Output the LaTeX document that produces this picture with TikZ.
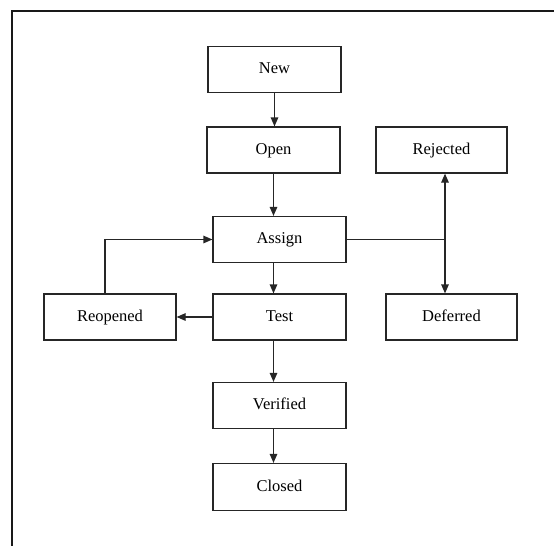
\documentclass[tikz,border=0pt]{standalone}
\usepackage{fontspec}
\setmainfont{Liberation Serif}
\usetikzlibrary{arrows.meta}

\begin{document}
\begin{tikzpicture}[x=1pt, y=-1pt,
  state/.style={draw=black!85, line width=1.2pt, rectangle, minimum width=133pt, minimum height=46pt, inner sep=0pt, text height=11pt, text depth=3pt, font=\fontsize{16.5}{18}\selectfont},
  flow/.style={draw=black!85, line width=1.2pt, -{Triangle[length=9pt, width=7.5pt]}}]
\useasboundingbox (0,0) rectangle (554,546);
\draw[line width=2pt, black!90] (554,10.5) -- (12,10.5) -- (12,546);
\node[state] (New) at (274.5,69.5) {New};
\node[state] (Open) at (273.5,150) {Open};
\node[state, minimum width=131pt] (Rejected) at (441.5,150) {Rejected};
\node[state] (Assign) at (279.5,239.5) {Assign};
\node[state] (Test) at (279.5,317) {Test};
\node[state, minimum width=131pt] (Deferred) at (451.5,317) {Deferred};
\node[state, minimum width=132pt] (Reopened) at (110,317) {Reopened};
\node[state] (Verified) at (279.5,405.5) {Verified};
\node[state, minimum height=47pt] (Closed) at (279.5,487) {Closed};
\coordinate (Split) at (445,239.5);
\draw[flow] (New.south) -- (New.south |- Open.north);
\draw[flow] (Open.south) -- (Open.south |- Assign.north);
\draw[flow] (Assign.south -| Open) -- (Test.north -| Open);
\draw[flow] (Test.south -| Open) -- (Verified.north -| Open);
\draw[flow] (Verified.south -| Open) -- (Closed.north -| Open);
\draw[flow] (Test.west) -- (Reopened.east);
\draw[flow] ([xshift=-5pt]Reopened.north) |- (Assign.west);
\draw[draw=black!85, line width=1.2pt] (Assign.east) -- (Split);
\draw[flow] (Split) -- (Split |- Rejected.south);
\draw[flow] (Split) -- (Split |- Deferred.north);
\end{tikzpicture}
\end{document}
